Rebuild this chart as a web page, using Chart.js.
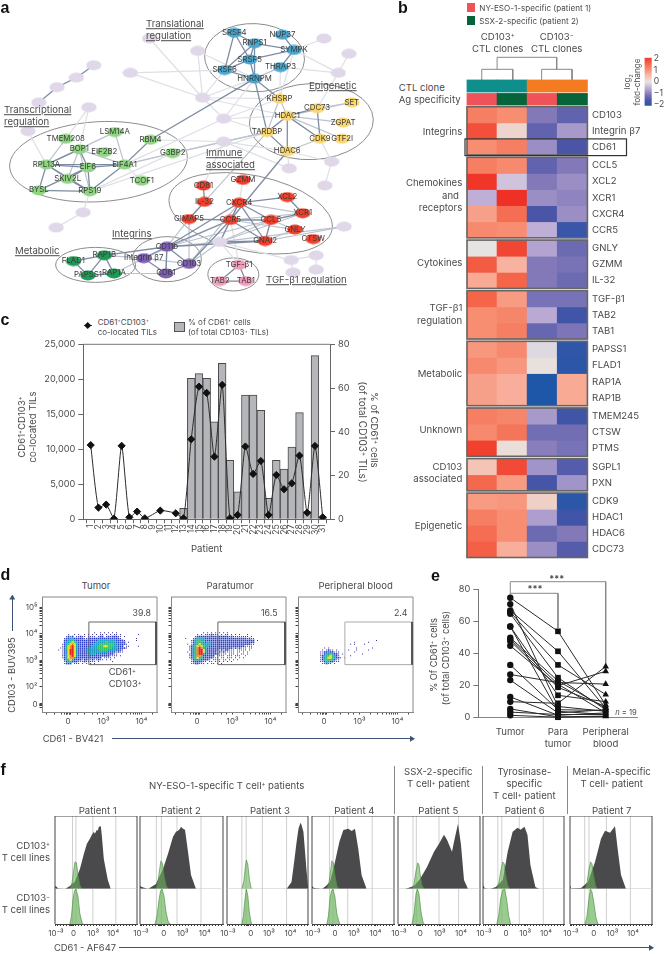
<!DOCTYPE html>
<html>
<head>
<meta charset="utf-8">
<title>CD61 CD103 figure</title>
<script src="https://cdn.jsdelivr.net/npm/chart.js@4/dist/chart.umd.min.js"></script>
<style>
  html, body { margin: 0; padding: 0; background: #fff; overflow: hidden; }
  #page { position: relative; width: 665px; height: 954px; font-family: Inter, sans-serif; color: #4a4a4a; }
  canvas { position: absolute; }
  .t { position: absolute; white-space: nowrap; line-height: 1; z-index: 2; }
  .t sup { font-size: .62em; vertical-align: baseline; position: relative; top: -.45em; line-height: 0; }
  .box { position: absolute; z-index: 2; }
</style>
</head>
<body>
<div id="page"></div>
<script>
// panel a: network nodes, name / x / y
const blueNodes = [["SRSF4",236,27],["NUP37",286,29],["RNPS1",257,38],["SYMPK",298,45],["SRSF5",252,55],["THRAP3",284,63],["SRSF6",226,66],["HNRNPM",257,75]];
const yellowNodes = [["KHSRP",283,96],["CDC73",322,106],["SET",358,100],["HDAC1",291,114],["ZGPAT",349,121],["TARDBP",270,131],["CDK9",325,138],["GTF2I",348,138],["HDAC6",291,151]];
const lightGreenNodes = [["LSM14A",112,131],["TMEM208",61,138],["RBM4",149,139],["BOP1",75,149],["EIF2B2",101,152],["G3BP2",172,153],["RPL13A",41,165],["EIF4A1",122,165],["EIF6",84,168],["SKIV2L",63,180],["TCOF1",140,182],["BYSL",33,192],["RPS19",86,193]];
const redNodes = [["CD81",204,187],["GZMM",245,181],["IL-32",205,204],["CXCR4",241,205],["XCL2",291,199],["XCR1",307,216],["GIMAP5",189,222],["CCR5",232,223],["CCL5",274,223],["GNLY",299,233],["CTSW",318,243],["GNAI2",268,245]];
const darkGreenNodes = [["FLAD1",69,266],["RAP1B",101,260],["PAPSS1",84,281],["RAP1A",111,279]];
const purpleNodes = [["CD11b",166,251],["Integrin β7",142,263],["CD103",189,269],["CD61",165,279]];
const pinkNodes = [["TGF-β1",241,270],["TAB2",221,287],["TAB1",248,287]];
const paleNodes = [["L1",148,33],["L2",198,46],["L3",128,69],["L4",329,33],["L5",355,49],["L6",344,69],["L7",203,95],["L8",225,117],["L9",225,141],["L10",90,61],["L11",72,74],["L12",52,84],["L13",33,100],["L14",85,105],["L15",21.7,130],["L16",293,169],["L17",337,162],["L18",330,187],["L19",79,215],["L20",51,231],["L21",350,230],["L22",221,246],["L23",295,265],["L24",321,260],["L25",297,278],["L26",321,275]];

const darkEdges = ["SRSF4-RNPS1","SRSF4-SRSF6","SRSF4-SRSF5","RNPS1-SRSF5","RNPS1-SYMPK","RNPS1-HNRNPM","SRSF5-SRSF6","SRSF5-HNRNPM","SRSF5-SYMPK","SRSF6-HNRNPM","NUP37-SYMPK","SYMPK-THRAP3","RNPS1-SRSF6",
  "HNRNPM-TARDBP","HNRNPM-KHSRP","TARDBP-HDAC1","HDAC1-HDAC6","HDAC1-CDC73","CDC73-CDK9","HDAC1-CDK9","TARDBP-HDAC6","RBM4-HNRNPM","HDAC6-CCR5",
  "BOP1-RPL13A","BOP1-EIF6","RPL13A-EIF6","RPL13A-EIF4A1","RPL13A-BYSL","RPL13A-RPS19","EIF6-RPS19","EIF6-SKIV2L","EIF6-EIF4A1","BYSL-RPS19","BYSL-EIF6","SKIV2L-RPS19","EIF4A1-RPS19","EIF4A1-RBM4",
  "CXCR4-CCR5","CXCR4-CCL5","CXCR4-GNAI2","CCR5-CCL5","CCR5-GNAI2","CCL5-GNAI2","CCL5-XCR1","XCL2-XCR1","XCL2-CXCR4","GIMAP5-CCR5","GIMAP5-IL-32","CD81-IL-32",
  "FLAD1-PAPSS1","PAPSS1-RAP1A","RAP1A-RAP1B","PAPSS1-RAP1B","FLAD1-RAP1B",
  "CD11b-Integrin β7","CD11b-CD103","CD11b-CD61","Integrin β7-CD61","CD103-CD61","TGF-β1-TAB2","TGF-β1-TAB1","TAB1-TAB2",
  "CD11b-CCR5","CD11b-CXCR4","CD103-CCR5","L22-CCR5","L22-GNAI2","CD11b-GNAI2","RAP1B-CD11b","L10-L11","L11-L12","L12-L13"];
const midEdges = ["HNRNPM-THRAP3","KHSRP-TARDBP","HDAC1-KHSRP","HDAC6-CDK9","HDAC1-ZGPAT","HDAC1-GTF2I","CDC73-SET","HDAC1-SET","BOP1-RPS19","SKIV2L-RPL13A","TMEM208-RPL13A","BOP1-SKIV2L","LSM14A-RPL13A","EIF4A1-BOP1","EIF4A1-LSM14A","G3BP2-EIF4A1","G3BP2-TARDBP","TARDBP-L9",
  "XCR1-CXCR4","XCR1-CCR5","GNLY-CCR5","GNLY-GNAI2","CCL5-GNLY","CD11b-CCL5","CD103-CXCR4","Integrin β7-CCR5","Integrin β7-CD103","RAP1B-Integrin β7","RAP1A-CD61","RAP1A-Integrin β7","L22-CD11b","L22-CD103","L22-CCL5","L22-XCR1","L22-CXCR4","L21-GNAI2","L21-L22","CD61-CD11b","TARDBP-IL-32","IL-32-GIMAP5","GIMAP5-CD103","GIMAP5-CD11b"];
const faintEdges = ["L1-L7","L2-HNRNPM","L3-L7","L3-SRSF6","L4-SYMPK","L5-L6","L6-SYMPK","L6-CDC73","L6-THRAP3","L7-HNRNPM","L7-SRSF6","L7-KHSRP","L7-HDAC1","L8-HNRNPM","L8-KHSRP","L8-HDAC1","L8-TARDBP","L9-G3BP2","L9-HDAC6","L9-RBM4","L9-EIF4A1","L14-TMEM208","L15-RPL13A","L16-HDAC6","L17-L18","L17-CDK9","L17-HDAC6","RPS19-L19","L19-L20","L23-L24","L23-L25","L24-L26","L22-L23","TGF-β1-L22","TGF-β1-CCR5","GZMM-CXCR4","RPS19-G3BP2","TARDBP-RPS19","TCOF1-EIF4A1","THRAP3-KHSRP","SYMPK-KHSRP","L7-L8","L9-L16","CD81-L9","L8-EIF4A1","L2-L7","L14-BOP1"];

// cluster outlines: cx, cy, rx, ry, tilt
const clusterEllipses = [[257,53,50,34,0.05],[316,120,62,38,-0.04],[95,162,89,40,-0.06],[253,216,83,38,0.2],[92,270,40,17.5,0],[166,264,34.5,22.5,0],[235,280,25.5,16.5,0]];

// panel b: heatmap
const geneGroups = [
  ["CD103","Integrin β7","CD61"],
  ["CCL5","XCL2","XCR1","CXCR4","CCR5"],
  ["GNLY","GZMM","IL-32"],
  ["TGF-β1","TAB2","TAB1"],
  ["PAPSS1","FLAD1","RAP1A","RAP1B"],
  ["TMEM245","CTSW","PTMS"],
  ["SGPL1","PXN"],
  ["CDK9","HDAC1","HDAC6","CDC73"]
];
const foldChanges = [
  [1.2,1.0,-1.0,-1.3],[1.7,0.2,-1.3,-0.7],[1.0,1.2,-0.8,-1.5],
  [1.2,1.05,-1.3,-1.0],[1.95,-0.3,-1.0,-0.8],[-0.5,2.0,-0.8,-0.9],[0.8,1.4,-1.5,-0.8],[1.05,1.0,-0.5,-1.7],
  [0,1.8,-0.6,-1.2],[1.6,0.6,-1.0,-1.1],[0.7,1.5,-1.0,-1.2],
  [1.5,0.85,-1.1,-1.1],[1.0,1.1,-0.55,-1.6],[1.0,1.2,-1.25,-1.05],
  [0.9,1.05,-0.1,-1.8],[1.05,0.9,0.05,-1.85],[0.8,0.65,-2,0.7],[0.8,0.65,-2,0.7],
  [1.2,1.1,-0.7,-1.6],[1.05,1.3,-1.15,-1.15],[1.85,0.08,-0.95,-1.1],
  [0.4,1.75,-0.75,-1.4],[1.45,0.85,-1.55,-0.75],
  [0.85,0.9,0.25,-1.85],[1.2,1.0,-0.65,-1.6],[1.4,1.0,-1.2,-1.0],[1.55,0.65,-0.8,-1.4]
];
const colorStops = [[-2,31,87,168],[-1.5,74,85,168],[-1,131,121,185],[-0.5,191,174,214],[0,230,228,226],[0.5,248,188,171],[1,247,142,114],[1.5,244,101,74],[2,238,49,36]];
const cloneColors = ["#0f8f8c","#0f8f8c","#f47b20","#f47b20"];
const agColors = ["#f0525a","#05643a","#f0525a","#05643a"];
const colorbarTicks = [2,1,0,-1,-2];

// panel c
const patients = [1,2,3,4,5,6,7,8,9,10,11,12,13,14,15,16,17,18,19,20,21,22,23,24,25,26,27,28,29,30,31];
const colocatedTils = [10600,1670,2100,100,10500,290,1100,150,null,1240,null,860,140,11430,18950,18050,8950,19200,150,620,10400,6480,8330,620,6330,4290,5140,9100,950,10480,290];
const cd61Percent = [null,null,null,null,null,null,null,null,null,null,null,null,5,64.4,66.6,64.4,44.6,71.3,27,12.6,56.8,56.8,49.8,9.6,27,23,33,48.8,3.5,74.8,0.8];

// panel d: density, one string per row, digit = colour level
const densityTumor = [
  "...................1..1.1.1.1.1.......",
  "......1..1.1..1.1.1.1.11.1.1.11.1........1",
  ".....1212.11211.1111.122.12122211.1....",
  "....12233222221122222222222222221.......1",
  "....2233432222222222233333333322221.....1",
  "....2334543222222222333334333322222.1...",
  "...123456532222222233344444443322221....",
  "...1235675322222223334445544433222.11....1",
  "..1124567532222233333444444433322221....",
  ".1.1235775322223333333444433332221......",
  "...1235775322222333333333322221211......",
  "...1235775322222233322222222211.........",
  "...1235675322222222222222221111.1.......",
  "...12356632222222222222.1111.1..........",
  "....23453222212211211211.1.1............",
  "....1233222111211111.1......1...........",
  "....1222.111.1.1.1.1...................."
];
const densityPara = [
  ".........1.1.1.1.1.1.1.................",
  "......1.1.1112111.1.11.1.1.1...1.......",
  ".....122222222222222221211111111.1.....",
  "1...1233332222222222222222222221211....",
  "...12344332222222222222222222222222.1..",
  "...12344432332222222222222222222222....",
  ".1.12345433332222222222222222222211....",
  "..12345654332222222222222222221111.....",
  "..12346764322222222222221212111.11.....",
  "..12346775322222212122111.11111.1......",
  ".1.2346775322222121211111.11.1.1.......",
  "..1234677322222221111.111.1.11.1.......",
  "..1234664222222.1111.111.111..1........",
  "..123454322222111.11.111.1.1.1.........",
  "...1233322221.1111.11.1.1.1............",
  "...12222211.11.1.1.1.1.1...............",
  "...1122111.1.11.1.1...................."
];
const densityBlood = [
  "",
  "",
  "",
  "",
  "................................1",
  ".....................1......1",
  "...................1.1....1",
  "",
  "......1.1.............1.......1",
  ".....1.1211.1.....1...1.....1",
  "....1122322111.......1",
  "....1123343221.1.........1",
  "....1234454321.....1",
  "....12345543221.1",
  "....1234443211",
  "....1123322111",
  ".....11211.1"
];
const densityColors = ["","#3a2fa0","#2b3fc4","#1f9fc4","#35c06a","#e6dd35","#f28a1e","#e8261e"];
const flowTitles = ["Tumor","Paratumor","Peripheral blood"];
const flowGatePercent = ["39.8","16.5","2.4"];

// panel e: paired values per patient
const tumorValues = [75,71,67,66,65,57,57,50,49,48,45,33,27,23.5,13,10,5.5,3.5,1.5];
const paraValues = [54,7,41.5,33,25,14,4,23,21,19,20,5,22,3,1.5,9,0.5,2,0.3];
const bloodValues = [8,4,6,14.5,5,10,2,6,3,7,29,4.5,21,5,3,32,1,2,0.8];
const siteLabels = [["Tumor"],["Para","tumor"],["Peripheral","blood"]];

// panel f: histograms, [position, height] along each panel
const cd103Pos = [
  [[0,3],[2,2],[3,0.5],[10,0],[15,3],[20,7.5],[25,20],[29,35],[32,45],[35,50],[37,54],[39,57],[40,55],[42,59],[43,58],[44,62],[46,62.5],[47,53],[49,30],[53,9],[56,0]],
  [[0,3],[2,2],[8,0],[16,5],[23,20],[28,35],[33,52],[36,57],[38,58],[40,60],[41,62],[43,60],[45,59],[48,37],[51,14],[56,0]],
  [[60,0],[65,7],[68,30],[70,46],[72,60],[74,66],[75,64],[77,57],[80,20],[81.6,3]],
  [[0,3],[2,1],[10,0],[14,3],[18,7],[22,22],[27.6,47],[31.6,58.7],[36.6,60],[40,57.7],[43.3,60],[46.6,40],[50,13.7],[55,0]],
  [[7,0],[16,3],[22,10],[29,22],[36,37],[41,45],[46,54],[49,49],[54,37],[56,47],[60,65],[63,44],[66,9],[70,0]],
  [[0,4],[2,0.5],[7,0],[13,2],[20,9],[25,37],[30,57],[35,61],[38,59],[42,62],[45,54],[48,24],[53,2],[57,0]],
  [[0,4],[1,0.5],[11,1],[18,7],[25,27],[31,50],[35,58],[40,56],[45,62.5],[48,37],[51,14],[56,0]]
];
const greenUpper = [
  [[15,0],[17,6],[19,20],[20,27],[21.5,26],[23,15],[25,4],[27,0]],
  [[16,0],[18,8],[20,22],[21,28],[22.5,25],[24,14],[26,4],[28,0]],
  [[15,0],[17,8],[18.5,22],[19.5,29],[21,24],[22.5,10],[24,2],[25,0]],
  [[15,0],[17,6],[19,20],[20,28],[21.5,26],[23,15],[25,4],[27,0]],
  [[14,0],[16,5],[18,18],[19.7,26],[21,24],[22.5,12],[24,4],[26,0]],
  [[14,0],[16,6],[18,18],[20,27],[21.5,25],[23,14],[25,4],[27,0]],
  [[15,0],[17,6],[19,20],[20.5,27],[22,25],[23.5,14],[25.5,4],[27,0]]
];
const greenLower = [
  [[15,0],[16.5,8],[18,24],[19.5,33],[21,35],[23,28],[25,10],[27,2],[28,0]],
  [[15,0],[17,8],[19,24],[20.5,33],[22,35],[24,28],[26,12],[28,3],[30,0]],
  [[15,0],[16.5,8],[18,24],[19.5,35],[21,28],[22.5,12],[24,3],[25,0]],
  [[15,0],[16.5,8],[18,24],[19.5,33],[21,35],[23,28],[25,10],[27,3],[28,0]],
  [[14,0],[16,10],[18,30],[19.5,35],[21,30],[23,12],[25,2],[26,0]],
  [[14,0],[16,9],[18,26],[20,34],[22,35],[24,24],[26,8],[28,0]],
  [[15,0],[17,8],[19,26],[20.5,35],[22,32],[24,20],[26,6],[28,0]]
];
const histGridLines = [[17.6,21,38,61],[16.4,21.4,37,61],[15,19.3,35.6,60],[17.6,21.3,36,60.6],[15,18.3,41,60.6],[15,19,36.7,61],[14.7,19,36.4,60.4]];
const histTickPos = [[1,18.6,38.3,58.3],[1,23.7,42.7,64.7],[1,24,42.3,64],[1,23.3,42.3,64],[1,22.3,41.6,63],[1,23.4,42.7,63.7],[1,23.7,42.4,63]];
const histTickLabels = ["10⁻³","0","10³","10⁴"];

const page = document.getElementById("page");
Chart.defaults.responsive = false;
Chart.defaults.animation = false;
Chart.defaults.font.family = "Inter, sans-serif";
Chart.defaults.color = "#4a4a4a";
Chart.defaults.plugins.legend.display = false;
Chart.defaults.plugins.tooltip.enabled = false;

function addCanvas(x, y, w, h) {
    const c = document.createElement("canvas");
    c.width = w;
    c.height = h;
    c.style.left = x + "px";
    c.style.top = y + "px";
    page.appendChild(c);
    return c;
}

function txt(html, x, y, o = {}) {
    const el = document.createElement("div");
    el.className = "t";
    el.innerHTML = html;
    el.style.left = x + "px";
    el.style.top = y + "px";
    el.style.fontSize = (o.size || 9.6) + "px";
    if (o.color) el.style.color = o.color;
    if (o.weight) el.style.fontWeight = o.weight;
    if (o.family) el.style.fontFamily = o.family;
    if (o.underline) el.style.textDecoration = "underline";
    const tx = o.align === "center" ? "-50%" : o.align === "right" ? "-100%" : "0";
    el.style.transform = `translate(${tx},-50%)` + (o.rot ? ` rotate(${o.rot}deg)` : "");
    page.appendChild(el);
    return el;
}

function box(x, y, w, h, color) {
    const el = document.createElement("div");
    el.className = "box";
    el.style.cssText += `left:${x}px;top:${y}px;width:${w}px;height:${h}px;background:${color}`;
    page.appendChild(el);
    return el;
}

function hArrow(x0, x1, y) {
    box(x0, y - 0.6, x1 - x0 - 3, 1.2, "#3b5378");
    const head = box(x1 - 5, y - 3, 5, 6, "#3b5378");
    head.style.clipPath = "polygon(0 0,100% 50%,0 100%)";
}

const fit = (size) => (s) => {
    if (s.isHorizontal()) s.height = size;
    else s.width = size;
    s.paddingLeft = s.paddingRight = s.paddingTop = s.paddingBottom = 0;
};

function framePlugin(sides) {
    return {
        id: "frame",
        afterDatasetsDraw(chart) {
            const a = chart.chartArea, ctx = chart.ctx;
            const seg = { t: [a.left, a.top, a.right, a.top], b: [a.left, a.bottom, a.right, a.bottom], l: [a.left, a.top, a.left, a.bottom], r: [a.right, a.top, a.right, a.bottom] };
            Object.keys(sides).forEach((k) => {
                ctx.save();
                ctx.strokeStyle = sides[k];
                ctx.lineWidth = 1;
                ctx.beginPath();
                ctx.moveTo(seg[k][0], seg[k][1]);
                ctx.lineTo(seg[k][2], seg[k][3]);
                ctx.stroke();
                ctx.restore();
            });
        },
    };
}

function foldColor(v) {
    for (let i = 1; i < colorStops.length; i++) {
        if (v <= colorStops[i][0]) {
            const a = colorStops[i - 1], b = colorStops[i], f = (v - a[0]) / (b[0] - a[0]);
            return `rgb(${Math.round(a[1] + (b[1] - a[1]) * f)},${Math.round(a[2] + (b[2] - a[2]) * f)},${Math.round(a[3] + (b[3] - a[3]) * f)})`;
        }
    }
    return "rgb(238,49,36)";
}

// ---------- panel a ----------
function ellipseImage(color) {
    const c = document.createElement("canvas");
    c.width = 16;
    c.height = 11;
    const ctx = c.getContext("2d");
    ctx.fillStyle = color;
    ctx.beginPath();
    ctx.ellipse(8, 5.5, 7.6, 5, 0, 0, Math.PI * 2);
    ctx.fill();
    return c;
}

function paintNetwork() {
    const nodeSets = [[paleNodes, "#e0d7e9"], [blueNodes, "#4aa6cf"], [yellowNodes, "#fbd772"], [lightGreenNodes, "#90d582"], [redNodes, "#f0402c"], [darkGreenNodes, "#1e9a55"], [purpleNodes, "#7e5fb3"], [pinkNodes, "#ef9dbb"]];
    const pos = {};
    nodeSets.forEach((set) => set[0].forEach((n) => (pos[n[0]] = { x: n[1], y: n[2] })));
    const datasets = [];
    const addEdges = (list, color, width, order) => {
        list.forEach((e) => {
            const names = Object.keys(pos).filter((n) => e.startsWith(n + "-") && pos[e.slice(n.length + 1)]);
            const from = names[0], to = e.slice(from.length + 1);
            datasets.push({ type: "line", data: [pos[from], pos[to]], borderColor: color, borderWidth: width, pointRadius: 0, order });
        });
    };
    addEdges(faintEdges, "#dfe0e6", 1.2, 3);
    addEdges(midEdges, "#bcc2ce", 1.2, 2);
    addEdges(darkEdges, "#7e8ca3", 1.3, 1);
    nodeSets.forEach((set) => {
        datasets.push({ data: set[0].map((n) => ({ x: n[1], y: n[2] })), pointStyle: ellipseImage(set[1]), pointRadius: 6, order: 0 });
    });
    const ellipses = {
        id: "ellipses",
        beforeDatasetsDraw(chart) {
            const ctx = chart.ctx, sx = chart.scales.x, sy = chart.scales.y;
            ctx.save();
            ctx.strokeStyle = "#8c8c8c";
            ctx.lineWidth = 1;
            clusterEllipses.forEach((e) => {
                ctx.beginPath();
                ctx.ellipse(sx.getPixelForValue(e[0]), sy.getPixelForValue(e[1]), e[2], e[3], e[4], 0, Math.PI * 2);
                ctx.stroke();
            });
            ctx.restore();
        },
    };
    const chart = new Chart(addCanvas(0, 0, 380, 312), {
        type: "scatter",
        data: { datasets },
        options: { scales: { x: { display: false, min: 0, max: 380 }, y: { display: false, min: 0, max: 312, reverse: true } } },
        plugins: [ellipses],
    });
    nodeSets.slice(1).forEach((set) => {
        set[0].forEach((n) => {
            txt(n[0], chart.scales.x.getPixelForValue(n[1]), chart.scales.y.getPixelForValue(n[2]), { size: 7.8, align: "center", color: "#3c3c3c" });
        });
    });
}
paintNetwork();

txt("a", 0.5, 8, { size: 16, weight: 700, color: "#111", family: "Liberation Sans" });
[["Translational", 146, 24], ["regulation", 146, 36], ["Transcriptional", 4, 110], ["regulation", 4, 122], ["Epigenetic", 309, 86], ["Immune", 206, 153], ["associated", 206, 165], ["Integrins", 112, 234], ["Metabolic", 15, 251], ["TGF-β1 regulation", 266, 280]].forEach((l) => {
    txt(l[0], l[1], l[2], { size: 9.6, underline: true });
});

// ---------- panel b ----------
const cellH = 16.1, groupGap = 2.3, heatTop = 106.7, colW = 30.1, heatLeft = 467;

function paintHeatmap() {
    const datasets = [];
    const colX = [0.5, 1.5, 2.5, 3.5];
    const addRow = (top, bottom, colors) => {
        datasets.push({ data: colX.map((x) => ({ x, y: [top, bottom] })), backgroundColor: colors, barPercentage: 1, categoryPercentage: 1, grouped: false, inflateAmount: 0.4 });
    };
    addRow(80, 92, cloneColors);
    addRow(93.5, 105, agColors);

    let y = heatTop, r = 0;
    const groupBoxes = [];
    const rowLabels = [];
    geneGroups.forEach((genes) => {
        const start = y;
        genes.forEach((g) => {
            addRow(y, y + cellH, foldChanges[r].map(foldColor));
            rowLabels.push([g, y + cellH / 2]);
            y += cellH;
            r++;
        });
        groupBoxes.push([start, y]);
        y += groupGap;
    });

    // dendrogram
    const dendro = [
        [[0.49, 80], [0.49, 69.3], [1.52, 69.3], [1.52, 80]],
        [[2.48, 80], [2.48, 69.3], [3.49, 69.3], [3.49, 80]],
        [[1.0, 69.3], [1.0, 57.3], [2.98, 57.3], [2.98, 69.3]],
    ];
    dendro.forEach((d) => {
        datasets.push({ type: "line", data: d.map((p) => ({ x: p[0], y: p[1] })), borderColor: "#888", borderWidth: 1, pointRadius: 0 });
    });

    const groupFrame = {
        id: "groupFrame",
        afterDatasetsDraw(chart) {
            const ctx = chart.ctx, sx = chart.scales.x, sy = chart.scales.y;
            ctx.save();
            ctx.strokeStyle = "#666";
            ctx.lineWidth = 1.6;
            groupBoxes.forEach((b) => {
                ctx.strokeRect(sx.getPixelForValue(0), sy.getPixelForValue(b[0]), sx.getPixelForValue(4) - sx.getPixelForValue(0), sy.getPixelForValue(b[1]) - sy.getPixelForValue(b[0]));
            });
            const cd61Top = heatTop + 2 * cellH;
            ctx.strokeStyle = "#333";
            ctx.lineWidth = 1.2;
            ctx.strokeRect(sx.getPixelForValue((465 - heatLeft) / colW), sy.getPixelForValue(cd61Top), 161.5, cellH + 0.6);
            ctx.restore();
        },
    };
    new Chart(addCanvas(460, 50, 170, 510), {
        type: "bar",
        data: { datasets },
        options: {
            scales: {
                x: { type: "linear", display: false, offset: false, min: (460 - heatLeft) / colW, max: (630 - heatLeft) / colW },
                y: { display: false, min: 50, max: 560, reverse: true },
            },
        },
        plugins: [groupFrame],
    });
    rowLabels.forEach((l) => txt(l[0], 592, l[1], { size: 9.6 }));
}
paintHeatmap();

function paintColorbar() {
    const canvas = addCanvas(635, 50, 30, 64);
    const ctx = canvas.getContext("2d");
    const grad = ctx.createLinearGradient(0, 7, 0, 56.7);
    colorStops.slice().reverse().forEach((s, i) => {
        grad.addColorStop(i / (colorStops.length - 1), `rgb(${s[1]},${s[2]},${s[3]})`);
    });
    new Chart(canvas, {
        type: "bar",
        data: { labels: ["scale"], datasets: [{ data: [[-2.1, 2.1]], backgroundColor: grad, barPercentage: 1, categoryPercentage: 1 }] },
        options: {
            layout: { padding: { left: 9.5, top: 7.7, bottom: 8.3 } },
            scales: {
                x: { display: false },
                y: {
                    position: "right", min: -2.1, max: 2.1, afterFit: fit(13.3),
                    afterBuildTicks: (s) => { s.ticks = colorbarTicks.map((value) => ({ value })); },
                    grid: { display: false, drawTicks: false }, border: { display: false },
                    ticks: { font: { size: 8.6 }, padding: 2, callback: (v) => String(v).replace("-", "−"), autoSkip: false },
                },
            },
        },
    });
}
paintColorbar();

txt("b", 398, 8, { size: 16, weight: 700, color: "#111", family: "Liberation Sans" });
box(466.7, 3.3, 8.3, 9, "#f0525a");
box(466.7, 16, 8.3, 9, "#05643a");
txt("NY-ESO-1-specific (patient 1)", 479.3, 7.5, { size: 8.1 });
txt("SSX-2-specific (patient 2)", 479.3, 20.7, { size: 8.1 });
txt("CD103<sup>+</sup>", 497.7, 36.7, { align: "center" });
txt("CTL clones", 497.7, 49, { align: "center" });
txt("CD103<sup>−</sup>", 556.7, 36.7, { align: "center" });
txt("CTL clones", 556.7, 49, { align: "center" });
txt("CTL clone", 398.7, 88.3);
txt("Ag specificity", 398.7, 100);
[["Integrins", 131.7], ["Chemokines", 183.3], ["and", 195.7, 459], ["receptors", 208], ["Cytokines", 263.3], ["TGF-β1", 308.3], ["regulation", 320.7], ["Metabolic", 374.3], ["Unknown", 430], ["CD103", 466.7], ["associated", 479], ["Epigenetic", 525.7]].forEach((l) => {
    txt(l[0], l[2] || 462.3, l[1], { align: "right" });
});
txt("log<sub style='font-size:.62em;line-height:0'>2</sub>", 627.3, 81.7, { size: 8.2, align: "center", rot: -90 });
txt("fold-change", 636.7, 81.7, { size: 8.2, align: "center", rot: -90 });

// ---------- panel c ----------
new Chart(addCanvas(0, 335, 372, 225), {
    type: "bar",
    data: {
        datasets: [
            {
                type: "line", yAxisID: "yL", order: 0,
                data: patients.map((p, i) => ({ x: p, y: colocatedTils[i] })),
                spanGaps: true, borderColor: "#2b2b2b", borderWidth: 1, tension: 0.2,
                pointStyle: "rectRot", pointRadius: 3.6, pointBackgroundColor: "#111", pointBorderColor: "#111",
            },
            {
                type: "bar", yAxisID: "yR", order: 1,
                data: patients.map((p, i) => ({ x: p, y: cd61Percent[i] })),
                backgroundColor: "#b4b6b9", borderColor: "#4a4a4a", borderWidth: 1, barPercentage: 1, categoryPercentage: 1,
            },
        ],
    },
    options: {
        layout: { padding: { top: 9.3, right: 2 } },
        scales: {
            x: {
                type: "linear", offset: false, min: 0.043, max: 31.944, afterFit: fit(40.7),
                afterBuildTicks: (s) => { s.ticks = patients.map((value) => ({ value })); },
                grid: { drawOnChartArea: false, tickLength: 4, color: "#666" }, border: { color: "#666" },
                ticks: { autoSkip: false, minRotation: 90, maxRotation: 90, font: { size: 8.6 }, padding: 1 },
            },
            yL: {
                position: "left", min: 0, max: 25000, afterFit: fit(83.3),
                grid: { drawOnChartArea: false, tickLength: 5, color: "#666" }, border: { color: "#666" },
                ticks: { stepSize: 5000, font: { size: 9.2 }, padding: 3, callback: (v) => v.toLocaleString("en-US") },
            },
            yR: {
                position: "right", min: 0, max: 80, afterFit: fit(40),
                grid: { drawOnChartArea: false, tickLength: 5, color: "#666" }, border: { color: "#666" },
                ticks: { stepSize: 20, font: { size: 9.2 }, padding: 3 },
            },
        },
    },
    plugins: [framePlugin({ t: "#777" })],
});
txt("c", 0.5, 320, { size: 16, weight: 700, color: "#111", family: "Liberation Sans" });
box(83.5, 325, 8, 1, "#333");
const legendDiamond = box(84.7, 322.7, 5.4, 5.4, "#111");
legendDiamond.style.transform = "rotate(45deg)";
box(174, 321.7, 9.3, 8.6, "#b4b6b9").style.border = "1px solid #555";
txt("CD61<sup>+</sup>CD103<sup>+</sup>", 97.7, 321.7, { size: 8 });
txt("co-located TILs", 97.7, 332.3, { size: 8 });
txt("% of CD61<sup>+</sup> cells", 188, 321.7, { size: 8 });
txt("(of total CD103<sup>+</sup> TILs)", 188, 332.3, { size: 8 });
txt("CD61<sup>+</sup>CD103<sup>+</sup>", 21.7, 426.7, { size: 9.6, align: "center", rot: -90 });
txt("co-located TILs", 33.3, 426.7, { size: 9.6, align: "center", rot: -90 });
txt("% of CD61<sup>+</sup> cells", 374, 430, { size: 9.6, align: "center", rot: 90 });
txt("(of total CD103<sup>+</sup> TILs)", 362.7, 431.7, { size: 10, align: "center", rot: 90 });
txt("Patient", 206.7, 549, { size: 9.6, align: "center" });

// ---------- panel d ----------
const flowLefts = [42.3, 170.7, 298];
const flowW = 115.5, flowTop = 593.3, flowH = 119.4;
const flowMatrices = [densityTumor, densityPara, densityBlood];
const flowXMajor = [2.06, 3, 4], flowYMajor = [1.3, 2, 3, 4, 5];
const flowXLabels = { 2.06: "0", 3: "10³", 4: "10⁴" };
const flowYLabels = { 1.3: "0", 2: "10²", 3: "10³", 4: "10⁴", 5: "10⁵" };
const flowXMinor = [1.5, 1.7, 1.9, 1.98, 2.01, 2.03, 2.09, 2.11, 2.14, 2.3, 2.5, 2.7, 2.85, 3.3, 3.48, 3.6, 3.7, 3.78, 3.85, 3.9, 3.95, 4.3];
const flowYMinor = [1.2, 1.26, 1.28, 1.32, 1.34, 2.3, 2.48, 2.6, 2.7, 2.78, 2.85, 2.9, 2.95, 3.3, 3.48, 3.6, 3.7, 3.78, 3.85, 3.9, 3.95, 4.3, 4.48, 4.6, 4.7, 4.78, 4.85, 4.9, 4.95];

function paintFlow(idx) {
    const left = flowLefts[idx];
    const byLevel = densityColors.map(() => []);
    // each density cell is 2 px wide/high on the plot
    flowMatrices[idx].forEach((row, r) => {
        for (let c = 0; c < row.length; c++) {
            if (row[c] !== ".") {
                byLevel[Number(row[c])].push({ x: 3 + (57 + 2 * c - 104) / 38, y: 3 + (659 - (630.5 + 2 * r)) / 27.3 });
            }
        }
    });
    const datasets = [];
    const levelRadius = [0, 0.7, 1.15, 1.45, 1.5, 1.5, 1.5, 1.5];
    byLevel.forEach((pts, lvl) => {
        if (lvl > 0) datasets.push({ data: pts, pointStyle: "rect", pointRadius: levelRadius[lvl], backgroundColor: densityColors[lvl], borderWidth: 0, order: 10 - lvl });
    });
    const gateColor = idx === 2 ? "#aaa" : "#666";
    datasets.push({ type: "line", data: [{ x: 4.39, y: 2.83 }, { x: 2.613, y: 2.83 }, { x: 2.613, y: 4.45 }, { x: 4.39, y: 4.45 }], borderColor: gateColor, borderWidth: 1, pointRadius: 0, order: 1 });
    datasets.push({ type: "line", data: [{ x: 4.39, y: 2.83 }, { x: 4.39, y: 4.45 }], borderColor: "#222", borderWidth: 2, pointRadius: 0, order: 0 });
    new Chart(addCanvas(left - 28, flowTop, flowW + 34, flowH + 22), {
        type: "scatter",
        data: { datasets },
        options: {
            layout: { padding: { right: 6 } },
            scales: {
                x: {
                    min: 1.376, max: 4.41, afterFit: fit(22),
                    afterBuildTicks: (s) => { s.ticks = flowXMajor.concat(flowXMinor).map((value) => ({ value })); },
                    grid: { drawOnChartArea: false, tickLength: 2.5, color: "#444" }, border: { color: "#888" },
                    ticks: { autoSkip: false, maxRotation: 0, font: { size: 8 }, padding: 2, callback: (v) => flowXLabels[v] || "" },
                },
                y: {
                    min: 1.03, max: 5.4, afterFit: fit(28),
                    afterBuildTicks: (s) => { s.ticks = flowYMajor.concat(flowYMinor).map((value) => ({ value })); },
                    grid: { drawOnChartArea: false, tickLength: 2.5, color: "#444" }, border: { color: "#888" },
                    ticks: { autoSkip: false, font: { size: 8 }, padding: 2, callback: (v) => (idx === 0 ? flowYLabels[v] || "" : "") },
                },
            },
        },
        plugins: [framePlugin({ t: "#888", r: "#888" })],
    });
}
[0, 1, 2].forEach(paintFlow);

txt("d", 0.5, 575, { size: 16, weight: 700, color: "#111", family: "Liberation Sans" });
[96, 230, 355.7].forEach((x, i) => txt(flowTitles[i], x, 585.7, { size: 9.6, align: "center" }));
[141.7, 269.3, 400.7].forEach((x, i) => txt(flowGatePercent[i], x, 613.3, { size: 8.8, align: "center" }));
txt("CD61<sup>+</sup>", 108.7, 672.3, { size: 9.4 });
txt("CD103<sup>+</sup>", 108.7, 684.3, { size: 9.4 });
txt("CD103 - BUV395", 12.3, 675, { size: 9.4, align: "center", rot: -90 });
box(11.7, 598, 1.2, 33, "#3b5378");
box(9.3, 594.5, 6, 5, "#3b5378").style.clipPath = "polygon(50% 0,100% 100%,0 100%)";
txt("CD61 - BV421", 42.7, 738.7, { size: 9.4 });
hArrow(111.7, 415, 738.7);

// ---------- panel e ----------
const siteStyles = ["circle", "rect", "triangle"], siteRadius = [3.2, 4, 3.8];
const pairDatasets = tumorValues.map((t, i) => ({
    type: "line",
    data: [{ x: 0, y: t }, { x: 1, y: paraValues[i] }, { x: 2, y: bloodValues[i] }],
    borderColor: "#2a2a2a", borderWidth: 1,
    pointStyle: siteStyles, pointRadius: siteRadius, pointBackgroundColor: "#111", pointBorderWidth: 0,
    clip: false,
}));
const brackets = [
    [{ x: 0, y: 75 }, { x: 0, y: 77.75 }, { x: 1, y: 77.75 }, { x: 1, y: 56 }],
    [{ x: 0, y: 77.75 }, { x: 0, y: 85 }, { x: 2, y: 85 }, { x: 2, y: 33 }],
];
brackets.forEach((data) => pairDatasets.push({ type: "line", data, borderColor: "#888", borderWidth: 1, pointRadius: 0, clip: false }));
new Chart(addCanvas(450, 570, 192, 185), {
    type: "scatter",
    data: { datasets: pairDatasets },
    options: {
        layout: { padding: { top: 19.7, right: 5 } },
        scales: {
            x: {
                min: -0.67, max: 2.656, afterFit: fit(37.3),
                afterBuildTicks: (s) => { s.ticks = [0, 1, 2].map((value) => ({ value })); },
                grid: { display: false, drawTicks: false }, border: { color: "#888" },
                ticks: { autoSkip: false, maxRotation: 0, font: { size: 9.6, lineHeight: 1.3 }, padding: 8, callback: (v) => siteLabels[v] },
            },
            y: {
                min: 0, max: 80, afterFit: fit(28.3),
                grid: { drawOnChartArea: false, tickLength: 5, color: "#777" }, border: { color: "#777" },
                ticks: { stepSize: 20, font: { size: 9.2 }, padding: 3 },
            },
        },
    },
});
txt("e", 431, 575.7, { size: 16, weight: 700, color: "#111", family: "Liberation Sans" });
txt("% Of CD61<sup>+</sup> cells", 434, 655, { size: 9.2, align: "center", rot: -90 });
txt("(of total CD103<sup>+</sup> cells)", 445.7, 658, { size: 9.2, align: "center", rot: -90 });
txt("***", 556.7, 578, { size: 9, align: "center", weight: 700 });
txt("***", 535, 588, { size: 9, align: "center", weight: 700 });
txt("<i>n</i> = 19", 626, 713.3, { size: 7.6, align: "center" });

// ---------- panel f ----------
const histLefts = [54.7, 140.3, 226.7, 311.7, 397.7, 483.3, 570.3];
const histRights = [137, 223.3, 308.3, 394.3, 479.7, 565.3, 652.3];
const histNames = ["Patient 1", "Patient 2", "Patient 3", "Patient 4", "Patient 5", "Patient 6", "Patient 7"];
const histCenters = [97.7, 181, 270, 354.3, 438.3, 524.7, 611.7];
const histText = 9.6;

function histGrid(lines) {
    return {
        id: "histGrid",
        beforeDatasetsDraw(chart) {
            const ctx = chart.ctx, a = chart.chartArea, sx = chart.scales.x;
            ctx.save();
            ctx.strokeStyle = "#cfcfcf";
            ctx.lineWidth = 1;
            lines.forEach((v) => {
                const px = sx.getPixelForValue(v);
                ctx.beginPath();
                ctx.moveTo(px, a.top);
                ctx.lineTo(px, a.bottom);
                ctx.stroke();
            });
            ctx.restore();
        },
    };
}

function histDataset(points, color, order, edge) {
    return { type: "line", data: points.map((p) => ({ x: p[0], y: p[1] })), backgroundColor: color, borderColor: edge || color, borderWidth: edge ? 0.7 : 0, pointRadius: 0, fill: "origin", order };
}

function paintHist(i) {
    const left = histLefts[i], w = histRights[i] - left;
    new Chart(addCanvas(left - 8, 816, w + 16, 73), {
        type: "line",
        data: { datasets: [histDataset(cd103Pos[i], "#4a4a4c", 2), histDataset(greenUpper[i], "rgba(110,180,95,.6)", 1, "rgba(70,140,60,.9)")] },
        options: {
            layout: { padding: { left: 8, right: 8 } },
            scales: { x: { type: "linear", display: false, min: 0, max: w }, y: { display: false, min: 0, max: 72.7 } },
        },
        plugins: [histGrid(histGridLines[i]), framePlugin({ t: "#444", l: "#444", r: "#444", b: "#c4c4c4" })],
    });
    const labelled = histTickPos[i];
    const marks = new Set(labelled);
    for (let k = 0; k * 3 < w; k++) marks.add(k * 3);
    [labelled[1] - 4, labelled[1] - 3, labelled[1] - 2].forEach((v) => marks.add(v));
    new Chart(addCanvas(left - 8, 888.7, w + 16, 53), {
        type: "line",
        data: { datasets: [histDataset(greenLower[i], "rgba(120,185,105,.75)", 1, "rgba(70,140,60,.9)")] },
        options: {
            layout: { padding: { left: 8, right: 8 } },
            scales: {
                x: {
                    type: "linear", min: 0, max: w, afterFit: fit(18),
                    afterBuildTicks: (s) => { s.ticks = Array.from(marks).map((value) => ({ value })); },
                    grid: { drawOnChartArea: false, tickLength: 2, color: "#333" }, border: { color: "#444" },
                    ticks: { autoSkip: false, maxRotation: 0, font: { size: 8 }, padding: 3, callback: (v) => histTickLabels[labelled.indexOf(v)] || "" },
                },
                y: { display: false, min: 0, max: 35 },
            },
        },
        plugins: [histGrid(histGridLines[i]), framePlugin({ l: "#444", r: "#444" })],
    });
    txt(histNames[i], histCenters[i], 811, { size: histText, align: "center" });
}
histLefts.forEach((_, i) => paintHist(i));

txt("f", 0.5, 770, { size: 16, weight: 700, color: "#111", family: "Liberation Sans" });
txt("NY-ESO-1-specific T cell<sup>+</sup> patients", 226.7, 786, { size: histText, align: "center" });
[394.7, 482.3, 567.3].forEach((x) => box(x - 0.7, 765.7, 1.4, 48.6, "#888"));
txt("SSX-2-specific", 438.3, 772, { size: histText, align: "center" });
txt("T cell<sup>+</sup> patient", 438.3, 784.3, { size: histText, align: "center" });
txt("Tyrosinase-", 524.3, 772, { size: histText, align: "center" });
txt("specific", 524.3, 784.3, { size: histText, align: "center" });
txt("T cell<sup>+</sup> patient", 524.3, 796.3, { size: histText, align: "center" });
txt("Melan-A-specific", 611.7, 772, { size: histText, align: "center" });
txt("T cell<sup>+</sup> patient", 611.7, 784.3, { size: histText, align: "center" });
txt("CD103<sup>+</sup>", 50, 845.7, { size: histText, align: "right" });
txt("T cell lines", 50, 857.7, { size: histText, align: "right" });
txt("CD103<sup>−</sup>", 50, 898.3, { size: histText, align: "right" });
txt("T cell lines", 50, 910.3, { size: histText, align: "right" });
txt("CD61 - AF647", 54, 947.7, { size: 9.4 });
hArrow(119.3, 654, 947.7);
</script>
</body>
</html>
